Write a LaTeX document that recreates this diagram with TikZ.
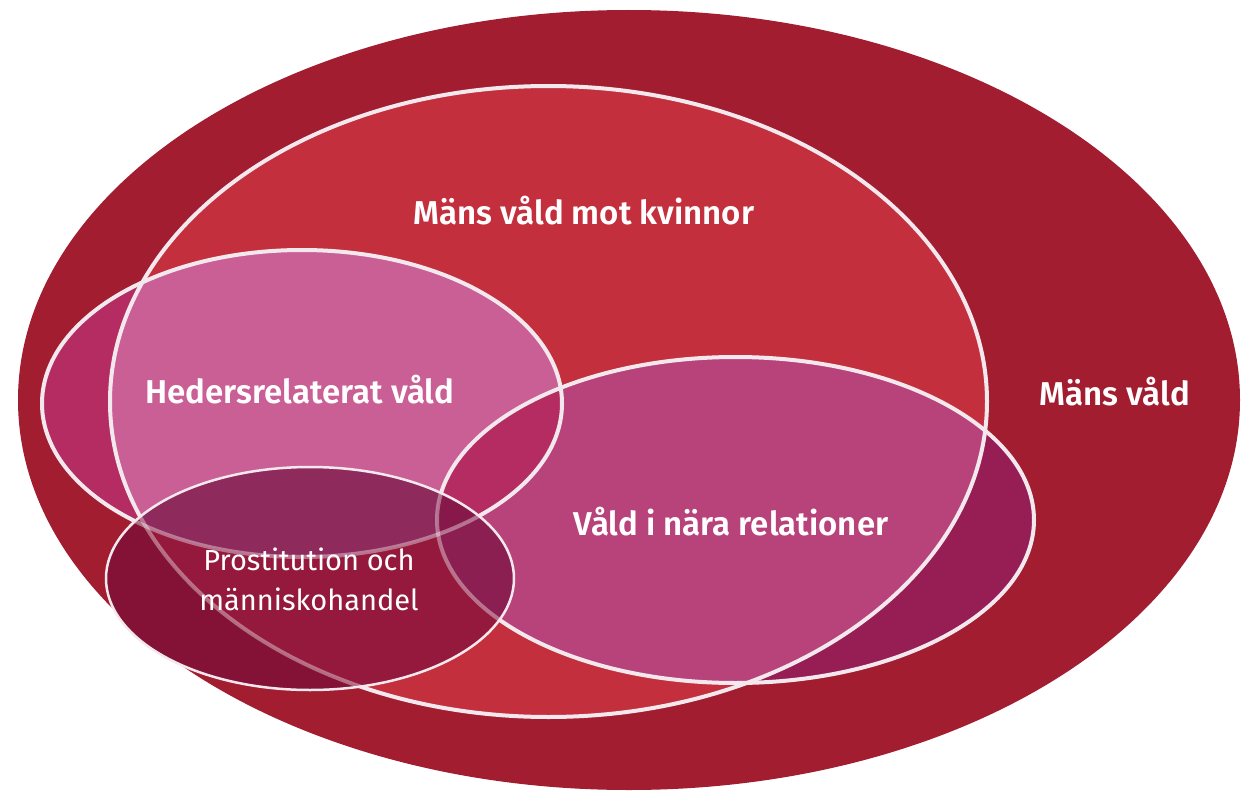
\documentclass[tikz,border=0pt]{standalone}
\usepackage{fontspec}
\setmainfont{Fira Sans}[BoldFont={Fira Sans SemiBold}]
\definecolor{cOuter}{HTML}{A11D2F}
\definecolor{cMV}{HTML}{C42F3D}
\definecolor{cHout}{HTML}{B52C62}
\definecolor{cHin}{HTML}{CA5F95}
\definecolor{cNout}{HTML}{971E55}
\definecolor{cNin}{HTML}{B8437B}
\definecolor{cHN}{HTML}{B52C62}
\definecolor{cPout}{HTML}{841236}
\definecolor{cPin}{HTML}{94193D}
\definecolor{cPH}{HTML}{8F2A5D}
\definecolor{cPHout}{HTML}{8A2049}
\definecolor{cPN}{HTML}{8C1F52}
\definecolor{cPHN}{HTML}{86194A}
\definecolor{cLine}{HTML}{F3E8EE}
\tikzset{
  outerE/.style={insert path={(629,400) ellipse [x radius=611pt, y radius=390pt]}},
  mvE/.style={insert path={(548.5,401.5) ellipse [x radius=438.5pt, y radius=315.5pt]}},
  hE/.style={insert path={(302,403.5) ellipse [x radius=260pt, y radius=153.5pt]}},
  nE/.style={insert path={(735.5,520) ellipse [x radius=298.5pt, y radius=163pt]}},
  pE/.style={insert path={(310,578.5) ellipse [x radius=204pt, y radius=111.5pt]}},
  outl/.style={draw=cLine, line width=4pt},
  faded/.style={draw=white, draw opacity=0.38, line width=4pt},
  boldlbl/.style={text=white, font=\bfseries\fontsize{33}{38}\selectfont, inner sep=0pt},
  reglbl/.style={text=white, font=\fontsize{29}{40}\selectfont, align=center, inner sep=0pt}
}
\begin{document}
\begin{tikzpicture}[x=1pt,y=-1pt]
\useasboundingbox (0,0) rectangle (1243,792);
% outer and main ellipse
\path[fill=cOuter, outerE];
\path[fill=cMV, mvE];
% Hedersrelaterat
\path[fill=cHout, hE];
\begin{scope}\clip[mvE]; \path[fill=cHin, hE]; \end{scope}
% Nära relationer
\path[fill=cNout, nE];
\begin{scope}\clip[mvE]; \path[fill=cNin, nE]; \end{scope}
\begin{scope}\clip[hE]; \path[fill=cHN, nE]; \end{scope}
% outlines
\path[outl, mvE];
\path[outl, hE];
\path[outl, nE];
% Prostitution
\path[fill=cPout, pE];
\begin{scope}\clip[pE]; \path[fill=cPin, mvE]; \end{scope}
\begin{scope}\clip[pE]; \path[fill=cPHout, hE]; \end{scope}
\begin{scope}\clip[pE]; \clip[hE]; \path[fill=cPH, mvE]; \end{scope}
\begin{scope}\clip[pE]; \path[fill=cPN, nE]; \end{scope}
\begin{scope}\clip[pE]; \clip[hE]; \path[fill=cPHN, nE]; \end{scope}
\begin{scope}\clip[pE];
  \path[faded, mvE];
  \path[faded, hE];
  \path[faded, nE];
\end{scope}
\path[draw=cLine, line width=2.5pt, pE];
% labels
\node[boldlbl] (mvk) at (584,211) {Mäns våld mot kvinnor};
\node[boldlbl] (heder) at (300,390) {Hedersrelaterat våld};
\node[boldlbl] (nara) at (731,522) {Våld i nära relationer};
\node[boldlbl] (mv) at (1115,392) {Mäns våld};
\node[reglbl] (prost) at (309,579) {Prostitution och\\människohandel};
\end{tikzpicture}
\end{document}
